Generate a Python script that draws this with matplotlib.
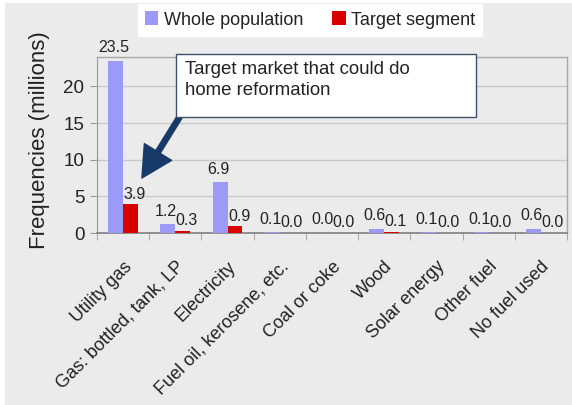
import matplotlib
matplotlib.use("Agg")
import matplotlib.pyplot as plt
import numpy as np
from matplotlib.patches import Rectangle, FancyArrowPatch

plt.rcParams['font.family'] = ['Liberation Sans', 'DejaVu Sans']

categories = ["Utility gas", "Gas: bottled, tank, LP", "Electricity",
              "Fuel oil, kerosene, etc.", "Coal or coke", "Wood",
              "Solar energy", "Other fuel", "No fuel used"]
whole_population = [23.5, 1.2, 6.9, 0.1, 0.0, 0.6, 0.1, 0.1, 0.6]
target_segment = [3.9, 0.3, 0.9, 0.0, 0.0, 0.1, 0.0, 0.0, 0.0]
series_names = ["Whole population", "Target segment"]
yticks = [0, 5, 10, 15, 20]
annotation_text = "Target market that could do\nhome reformation"

W, H = 572, 405
fig = plt.figure(figsize=(W / 100, H / 100), dpi=100)
fig.patch.set_facecolor("white")
# grey panel
fig.patches.append(Rectangle((5 / W, 0), 1, 1 - 3 / H, transform=fig.transFigure,
                             facecolor="#ebebeb", edgecolor="none", zorder=-10))

ax = fig.add_axes([97 / W, (H - 233) / H, (567 - 97) / W, (233 - 57) / H])
ax.set_facecolor("#ebebeb")

x = np.arange(len(categories))
bw = 0.285
blue = "#9b9bf7"
red = "#d90000"
b1 = ax.bar(x - bw / 2, whole_population, bw, color=blue, label=series_names[0], zorder=3)
b2 = ax.bar(x + bw / 2, target_segment, bw, color=red, label=series_names[1], zorder=3)

for xi, v in zip(x, whole_population):
    ax.annotate(f"{v:.1f}", (xi - bw / 2, v), xytext=(-1.5, 4), textcoords="offset points",
                ha="center", va="bottom", fontsize=11.5, color="#222222", zorder=5,
                annotation_clip=False)
for xi, v in zip(x, target_segment):
    ax.annotate(f"{v:.1f}", (xi + bw / 2, v), xytext=(3, 2), textcoords="offset points",
                ha="center", va="bottom", fontsize=11.5, color="#222222", zorder=5,
                annotation_clip=False)

ax.set_xlim(-0.5, len(categories) - 0.5)
ax.set_ylim(0, 24)
ax.set_yticks(yticks)
ax.set_yticklabels([str(t) for t in yticks], fontsize=13.5, color="#222222")
ax.yaxis.grid(True, color="#c9c9c9", linewidth=1, zorder=0)
ax.set_axisbelow(True)

ax.set_xticks(x)
ax.set_xticklabels(categories, rotation=45, ha="right", rotation_mode="anchor",
                   fontsize=13, color="#222222")
ax.tick_params(axis="x", which="major", length=0, pad=18)
ax.set_xticks(np.arange(-0.5, len(categories), 1), minor=True)
ax.tick_params(axis="x", which="minor", length=5, color="#999999", direction="out")
ax.tick_params(axis="y", length=5, color="#999999", direction="out", pad=4)

for side in ["top", "right"]:
    ax.spines[side].set_color("#a8a8a8")
    ax.spines[side].set_linewidth(1)
ax.spines["left"].set_color("#999999")
ax.spines["bottom"].set_color("#808080")
ax.spines["bottom"].set_linewidth(1.2)

ax.set_ylabel("Frequencies (millions)", fontsize=16, color="#222222")
ax.yaxis.set_label_coords(-0.10, 0.53)

# legend
leg = fig.legend(handles=[b1, b2], labels=series_names, loc="center",
                 bbox_to_anchor=(310 / W, (H - 20) / H), ncol=2, fontsize=13,
                 frameon=True, fancybox=False, facecolor="white", edgecolor="white",
                 framealpha=1, handlelength=0.75, handleheight=0.8, handletextpad=0.3,
                 columnspacing=1.6, borderpad=0.4)
for t in leg.get_texts():
    t.set_color("#222222")

# arrow (drawn below box)
arrow = FancyArrowPatch((1.08, 15.8), (0.36, 7.5), transform=ax.transData,
                        arrowstyle="simple,head_length=2.2,head_width=2.3,tail_width=0.38",
                        mutation_scale=10, color="#183a68", shrinkA=0, shrinkB=0,
                        zorder=6, clip_on=False)
ax.add_patch(arrow)

# annotation box
fig.patches.append(Rectangle((176 / W, (H - 117) / H), 300 / W, 63 / H,
                             transform=fig.transFigure, facecolor="white",
                             edgecolor="#3e5068", linewidth=1, zorder=20))
fig.text(185 / W, (H - 61) / H, annotation_text, ha="left", va="top",
         fontsize=13.4, color="#222222", linespacing=1.3, zorder=21)

fig.savefig("out.png", dpi=100)
